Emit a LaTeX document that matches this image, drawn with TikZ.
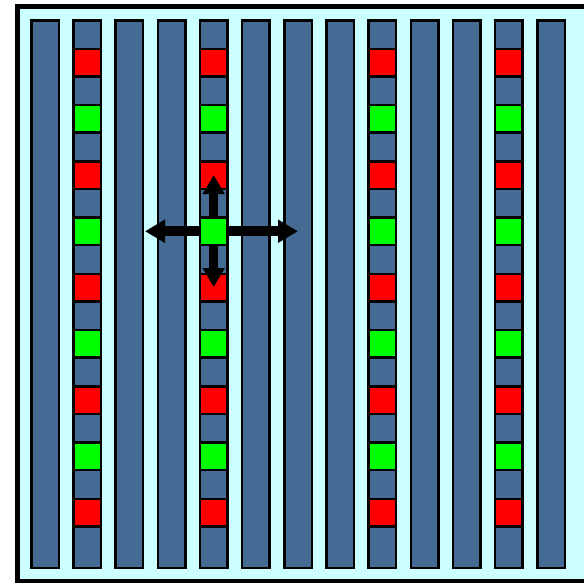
\documentclass[tikz,border=0pt]{standalone}
\usetikzlibrary{arrows.meta}
\definecolor{bgcyan}{HTML}{CCFFFF}
\definecolor{barblue}{HTML}{456A93}
\definecolor{cellred}{HTML}{FF0000}
\definecolor{cellgreen}{HTML}{00FF00}
\tikzset{
  bar/.style={draw=black, line width=2.5, fill=barblue, minimum width=27.5, minimum height=547.5, inner sep=0, outer sep=0},
  cell/.style={draw=black, line width=2.5, minimum width=27.5, minimum height=27.5, inner sep=0, outer sep=0},
  redcell/.style={cell, fill=cellred},
  greencell/.style={cell, fill=cellgreen},
  movearrow/.style={line width=10, -{Triangle[length=20, width=22]}},
  vmovearrow/.style={line width=9.5, -{Triangle[length=19, width=21]}},
}
\begin{document}
\begin{tikzpicture}[x=1pt, y=-1pt]
  \useasboundingbox (0,0) rectangle (584,582);
  \begin{scope}
    \clip (0,0) rectangle (584,582);
    % framed cyan board, running past the right edge
    \draw[line width=5, fill=bgcyan] (17.5,6.5) rectangle (620,581.5);
    % thirteen vertical bars
    \foreach \i in {0,...,12} {
      \node[bar] (bar\i) at ({45+42.17*\i},294) {};
    }
    % columns carrying alternating red/green cells (hub cell drawn later)
    \foreach \i in {1,4,8,11} {
      \foreach \k in {0,...,8} {
        \pgfmathsetmacro{\cx}{45+42.17*\i}
        \pgfmathsetmacro{\cy}{62.5+56.25*\k}
        \ifnum\i=4 \ifnum\k=3 \def\skipcell{1}\else\def\skipcell{0}\fi\else\def\skipcell{0}\fi
        \ifnum\skipcell=0
          \ifodd\k
            \node[greencell] (c\i-\k) at (\cx,\cy) {};
          \else
            \node[redcell] (c\i-\k) at (\cx,\cy) {};
          \fi
        \fi
      }
    }
    % four-way move arrows around the hub cell
    \coordinate (hub) at (213.68,231.25);
    \coordinate (tipL) at (145,231.25);
    \coordinate (tipR) at (298,231.25);
    \coordinate (tipU) at (213.68,175);
    \coordinate (tipD) at (213.68,287);
    \draw[movearrow] (hub) -- (tipL);
    \draw[movearrow] (hub) -- (tipR);
    \draw[vmovearrow] (hub) -- (tipU);
    \draw[vmovearrow] (hub) -- (tipD);
    \node[greencell] (c4-3) at (hub) {};
  \end{scope}
\end{tikzpicture}
\end{document}
